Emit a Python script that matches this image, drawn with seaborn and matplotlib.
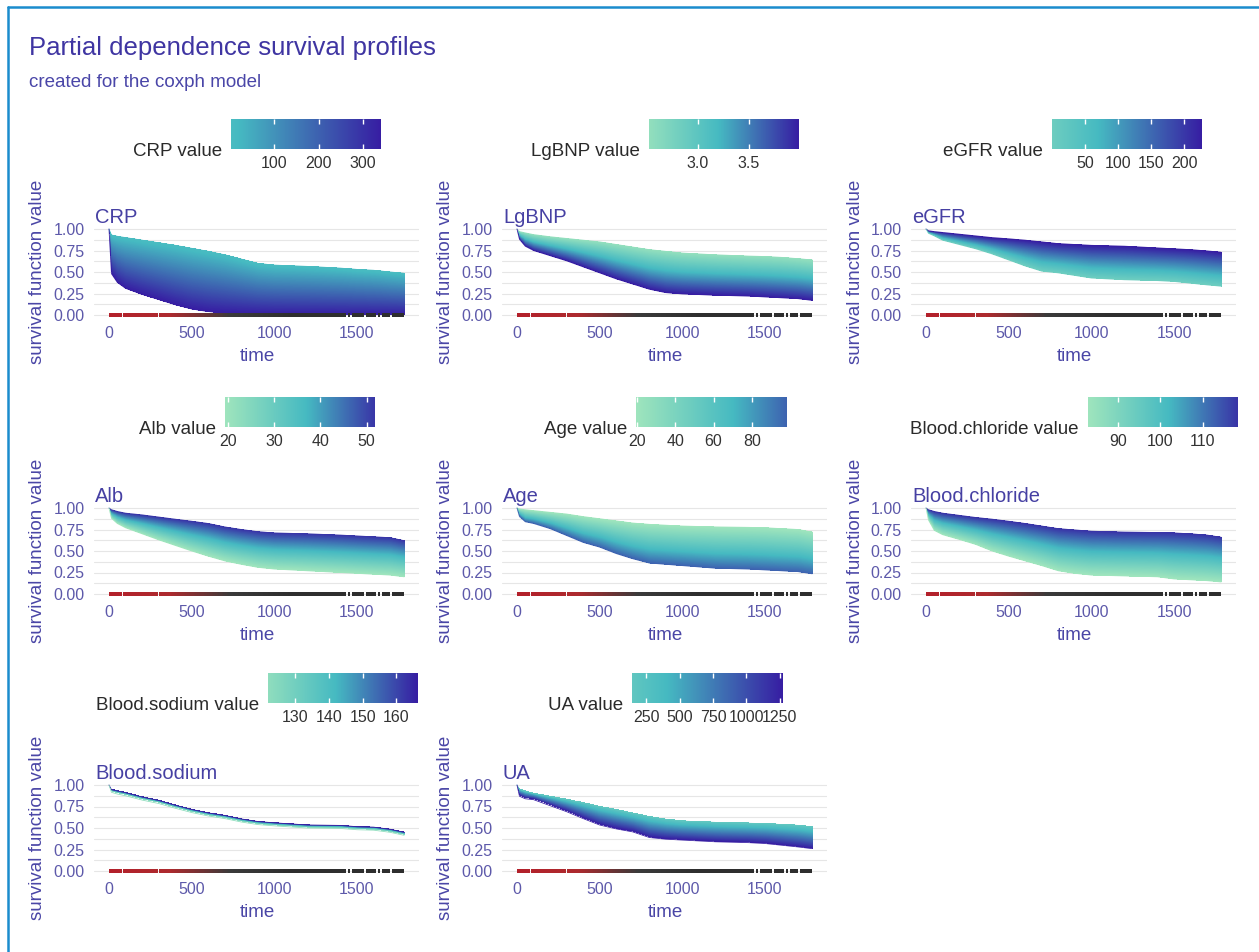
import numpy as np
import matplotlib
matplotlib.use('Agg')
import matplotlib.pyplot as plt
import seaborn as sns
from matplotlib.colors import LinearSegmentedColormap
from matplotlib.collections import LineCollection
from matplotlib.lines import Line2D

sns.set_theme(style='white')
plt.rcParams['font.family'] = ['Liberation Sans', 'DejaVu Sans']

# ---- data ----
times = [0, 15, 50, 100, 200, 300, 400, 500, 600, 700, 800, 900, 1000, 1200, 1400, 1500, 1600, 1700, 1785]

crp_upper = [1.0, 0.93, 0.915, 0.90, 0.87, 0.84, 0.81, 0.775, 0.74, 0.70, 0.65, 0.60, 0.58, 0.565, 0.545, 0.53, 0.52, 0.50, 0.485]
crp_lower = [1.0, 0.48, 0.38, 0.31, 0.24, 0.18, 0.12, 0.07, 0.04, 0.025, 0.018, 0.013, 0.01, 0.008, 0.007, 0.007, 0.006, 0.005, 0.005]
lgbnp_upper = [1.0, 0.97, 0.955, 0.935, 0.91, 0.89, 0.87, 0.85, 0.82, 0.79, 0.76, 0.74, 0.72, 0.70, 0.685, 0.68, 0.67, 0.655, 0.64]
lgbnp_lower = [1.0, 0.88, 0.80, 0.75, 0.69, 0.63, 0.56, 0.49, 0.42, 0.36, 0.30, 0.26, 0.245, 0.23, 0.22, 0.21, 0.20, 0.19, 0.17]
egfr_upper = [1.0, 0.98, 0.97, 0.96, 0.94, 0.92, 0.90, 0.886, 0.87, 0.85, 0.83, 0.82, 0.81, 0.80, 0.78, 0.77, 0.76, 0.745, 0.73]
egfr_lower = [1.0, 0.95, 0.92, 0.87, 0.82, 0.77, 0.71, 0.64, 0.57, 0.51, 0.49, 0.46, 0.43, 0.41, 0.40, 0.39, 0.37, 0.35, 0.335]
alb_upper = [1.0, 0.98, 0.96, 0.94, 0.92, 0.895, 0.87, 0.846, 0.82, 0.78, 0.75, 0.725, 0.71, 0.70, 0.685, 0.675, 0.665, 0.655, 0.62]
alb_lower = [1.0, 0.88, 0.82, 0.77, 0.70, 0.63, 0.565, 0.50, 0.44, 0.385, 0.345, 0.31, 0.29, 0.27, 0.25, 0.24, 0.23, 0.22, 0.20]
age_upper = [1.0, 0.99, 0.98, 0.97, 0.95, 0.93, 0.90, 0.875, 0.85, 0.825, 0.81, 0.80, 0.79, 0.78, 0.775, 0.77, 0.76, 0.75, 0.72]
age_lower = [1.0, 0.90, 0.84, 0.82, 0.76, 0.68, 0.60, 0.545, 0.47, 0.41, 0.36, 0.345, 0.33, 0.30, 0.29, 0.28, 0.27, 0.26, 0.235]
chloride_upper = [1.0, 0.98, 0.96, 0.94, 0.915, 0.89, 0.87, 0.846, 0.82, 0.79, 0.76, 0.745, 0.73, 0.72, 0.715, 0.71, 0.70, 0.685, 0.66]
chloride_lower = [1.0, 0.86, 0.74, 0.69, 0.635, 0.577, 0.50, 0.44, 0.385, 0.33, 0.27, 0.24, 0.22, 0.21, 0.20, 0.175, 0.165, 0.155, 0.14]
sodium_upper = [1.0, 0.945, 0.93, 0.91, 0.86, 0.82, 0.765, 0.715, 0.675, 0.645, 0.605, 0.575, 0.56, 0.535, 0.53, 0.515, 0.51, 0.485, 0.45]
sodium_lower = [1.0, 0.915, 0.895, 0.875, 0.825, 0.785, 0.73, 0.68, 0.64, 0.61, 0.57, 0.54, 0.525, 0.50, 0.495, 0.48, 0.475, 0.45, 0.415]
ua_upper = [1.0, 0.95, 0.925, 0.90, 0.865, 0.83, 0.79, 0.747, 0.71, 0.67, 0.63, 0.60, 0.58, 0.565, 0.555, 0.55, 0.54, 0.53, 0.51]
ua_lower = [1.0, 0.87, 0.84, 0.83, 0.76, 0.69, 0.61, 0.535, 0.49, 0.455, 0.39, 0.37, 0.36, 0.34, 0.33, 0.32, 0.30, 0.28, 0.26]

variables = ['CRP', 'LgBNP', 'eGFR', 'Alb', 'Age', 'Blood.chloride', 'Blood.sodium', 'UA']
uppers = [crp_upper, lgbnp_upper, egfr_upper, alb_upper, age_upper, chloride_upper, sodium_upper, ua_upper]
lowers = [crp_lower, lgbnp_lower, egfr_lower, alb_lower, age_lower, chloride_lower, sodium_lower, ua_lower]
upper_is_high = [False, False, True, True, False, True, True, False]

# colour scale range (min, median, max) and legend ticks
value_min = [4, 2.52, 0.5, 19.4, 19.3, 82.8, 121.9, 142]
value_mid = [20, 3.2, 70, 37, 70, 102, 142, 400]
value_max = [340, 3.99, 227, 51.8, 98, 118.4, 166.4, 1267]
legend_ticks = [[100, 200, 300], [3.0, 3.5], [50, 100, 150, 200], [20, 30, 40, 50],
                [20, 40, 60, 80], [90, 100, 110], [130, 140, 150, 160], [250, 500, 750, 1000, 1250]]
legend_labels = [['100', '200', '300'], ['3.0', '3.5'], ['50', '100', '150', '200'], ['20', '30', '40', '50'],
                 ['20', '40', '60', '80'], ['90', '100', '110'], ['130', '140', '150', '160'],
                 ['250', '500', '750', '1000', '1250']]

# rug of observed times at y = 0
rug_start = [0, 82, 202, 302, 1445, 1470, 1552, 1625, 1650, 1712]
rug_end = [77, 198, 298, 1432, 1458, 1542, 1612, 1642, 1702, 1785]

# ---- styling / layout (pixels) ----
W, H = 1259, 952
PURPLE = '#3f35a2'
TICK_COL = '#5d59aa'
pd_cmap = LinearSegmentedColormap.from_list('pd', ['#9fe5bd', '#46bac2', '#371ea3'])
rug_cmap = LinearSegmentedColormap.from_list('rug', ['#b3202a', '#ad2a2e', '#3a3a3a', '#2e2e2e'])

col_x0 = [109, 517, 926]      # pixel x of time = 0
row_y1 = [229, 508, 785]      # pixel y of survival = 1
unit_x = 248 / 1500
unit_y = 86
bar_left = [231, 649, 1052, 225, 636, 1088, 268, 632]
bar_top = [119, 397, 673]
x_lo, x_hi = -89, 1874


def fig_rect(l, t, w, h):
    return [l / W, 1 - (t + h) / H, w / W, h / H]


def scale_frac(v, vmin, vmid, vmax):
    d = max(vmid - vmin, vmax - vmid)
    return np.clip(0.5 + (np.asarray(v, dtype=float) - vmid) / (2 * d), 0, 1)


fig = plt.figure(figsize=(W / 100, H / 100), dpi=100)
fig.patch.set_facecolor('white')

fig.text(29 / W, 1 - 55 / H, 'Partial dependence survival profiles', fontsize=18.5, color=PURPLE, va='baseline')
fig.text(29 / W, 1 - 87 / H, 'created for the coxph model', fontsize=13.5, color='#4a46a8', va='baseline')

# frame lines (top and left)
fig.add_artist(Line2D([8 / W, 1], [1 - 7 / H, 1 - 7 / H], color='#1a8ccd', lw=1.8, transform=fig.transFigure))
fig.add_artist(Line2D([8 / W, 8 / W], [1 - 7 / H, 0], color='#1a8ccd', lw=1.8, transform=fig.transFigure))

tt = np.linspace(0, times[-1], 1000)
yy = np.linspace(0, 1, 900)

for i, var in enumerate(variables):
    r, c = divmod(i, 3)
    x0 = col_x0[c]
    y1 = row_y1[r]
    left = x0 + x_lo * unit_x
    width = (x_hi - x_lo) * unit_x
    top = y1 - 0.05 * unit_y
    height = 1.1 * unit_y
    ax = fig.add_axes(fig_rect(left, top, width, height))

    vmin, vmid, vmax = value_min[i], value_mid[i], value_max[i]
    v_up = vmax if upper_is_high[i] else vmin
    v_lo = vmin if upper_is_high[i] else vmax

    # gradient band between the lower and upper profile
    U = np.interp(tt, times, uppers[i])
    L = np.interp(tt, times, lowers[i])
    f = (yy[:, None] - L[None, :]) / np.maximum(U - L, 1e-6)[None, :]
    inside = (f >= -0.01) & (f <= 1.01)
    vals = v_lo + np.clip(f, 0, 1) * (v_up - v_lo)
    rgba = pd_cmap(scale_frac(vals, vmin, vmid, vmax))
    rgba[~inside, 3] = 0
    ax.imshow(rgba, extent=[0, times[-1], 0, 1], origin='lower', aspect='auto',
              interpolation='nearest', zorder=2)
    sns.lineplot(x=times, y=uppers[i], ax=ax, color=pd_cmap(float(scale_frac(v_up, vmin, vmid, vmax))),
                 lw=0.6, zorder=3)
    sns.lineplot(x=times, y=lowers[i], ax=ax, color=pd_cmap(float(scale_frac(v_lo, vmin, vmid, vmax))),
                 lw=0.6, zorder=3)

    # rug at zero (small overlapping pieces so the colour can shift from red to dark)
    segs, cols = [], []
    for s, e in zip(rug_start, rug_end):
        pts = np.linspace(s, e, max(2, int((e - s) / 10) + 1))
        for a, b in zip(pts[:-1], pts[1:]):
            segs.append([(a, 0), (min(b + 6, e), 0)])
            cols.append(rug_cmap(min(1.0, (a + b) / 2 / 1100)))
    ax.add_collection(LineCollection(segs, colors=cols, linewidths=2.8, capstyle='butt',
                                     antialiased=False, zorder=4))

    ax.set_xlim(x_lo, x_hi)
    ax.set_ylim(-0.05, 1.05)
    ax.set_xticks([0, 500, 1000, 1500])
    ax.set_xticklabels(['0', '500', '1000', '1500'])
    ax.set_yticks([0, 0.25, 0.5, 0.75, 1.0])
    ax.set_yticklabels(['0.00', '0.25', '0.50', '0.75', '1.00'])
    ax.set_yticks([0.125, 0.375, 0.625, 0.875], minor=True)
    ax.grid(False)
    ax.grid(axis='y', which='both', color='#e6e6e6', lw=0.8, zorder=0)
    ax.set_axisbelow(True)
    ax.tick_params(axis='both', which='both', length=0, labelsize=11.5, labelcolor=TICK_COL)
    ax.tick_params(axis='y', pad=6.8)
    ax.tick_params(axis='x', pad=5)
    for sp in ax.spines.values():
        sp.set_visible(False)
    ax.set_facecolor('none')
    ax.set_xlabel('')
    ax.set_ylabel('')

    # panel title, axis titles
    fig.text((x0 - 14) / W, 1 - (y1 - 6) / H, var, fontsize=14.5, color='#4640a3', va='baseline', ha='left')
    fig.text((x0 - 71) / W, 1 - (top + height / 2) / H, 'survival function value', fontsize=13.5,
             color='#4a46a6', rotation=90, va='center', ha='center')
    fig.text((x0 + 900 * unit_x) / W, 1 - (top + height + 37) / H, 'time', fontsize=13.5,
             color='#4a46a6', va='center', ha='center')

    # colour legend on top
    bl, bt = bar_left[i], bar_top[r]
    cax = fig.add_axes(fig_rect(bl, bt, 150, 30))
    grad = np.linspace(vmin, vmax, 300)
    cax.imshow(pd_cmap(scale_frac(grad, vmin, vmid, vmax))[None, :, :], extent=[vmin, vmax, 0, 1],
               aspect='auto', interpolation='bilinear')
    cax.set_xlim(vmin, vmax)
    cax.set_yticks([])
    cax.set_xticks(legend_ticks[i])
    cax.set_xticklabels(legend_labels[i])
    cax.tick_params(axis='x', direction='in', top=True, bottom=True, length=3.5, width=1,
                    color='white', labelsize=11.5, labelcolor='#333333', pad=5)
    for sp in cax.spines.values():
        sp.set_visible(False)
    fig.text((bl - 9) / W, 1 - (bt + 37) / H, f'{var} value', fontsize=13.5, color='#2a2a2a',
             ha='right', va='baseline')

fig.savefig('out.png', dpi=100, facecolor='white')
